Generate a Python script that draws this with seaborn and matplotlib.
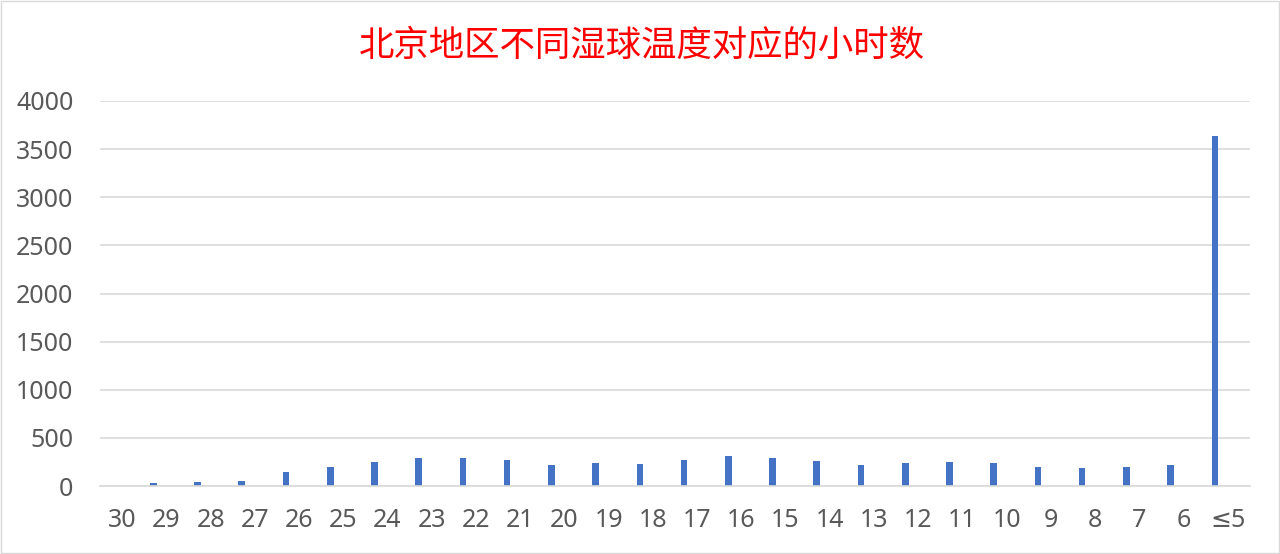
import numpy as np
import pandas as pd
import matplotlib
matplotlib.use('Agg')
import matplotlib.pyplot as plt
import seaborn as sns

# wet-bulb temperature categories and hours
temps = ['30', '29', '28', '27', '26', '25', '24', '23', '22', '21', '20', '19', '18',
         '17', '16', '15', '14', '13', '12', '11', '10', '9', '8', '7', '6', '≤5']
hours = [0, 28, 39, 56, 144, 197, 250, 292, 292, 268, 222, 239, 229,
         268, 313, 292, 261, 222, 239, 246, 236, 201, 187, 194, 215, 3636]

df = pd.DataFrame({'temp': temps, 'hours': hours})

sns.set_style('white')
plt.rcParams['font.family'] = ['Noto Sans CJK SC', 'DejaVu Sans']

fig = plt.figure(figsize=(12.8, 5.54), dpi=100)
ax = fig.add_axes([100 / 1280, 1 - 486 / 554, 1150 / 1280, 385 / 554])

sns.barplot(data=df, x='temp', y='hours', color='#4472C4', width=0.15, ax=ax,
            saturation=1, linewidth=0)

# Excel-style clustered layout: bar sits left of the category label
shift = 0.295
ax.set_xticks(np.arange(len(temps)) + shift, temps)
ax.set_xlim(-0.5 + shift, len(temps) - 0.5 + shift)

ax.set_ylim(0, 4000)
ax.set_yticks(range(0, 4001, 500))
ax.yaxis.grid(True, color='#D9D9D9', linewidth=1.2)
ax.set_axisbelow(True)
for s in ['top', 'right', 'left']:
    ax.spines[s].set_visible(False)
ax.spines['bottom'].set_color('#D9D9D9')
ax.spines['bottom'].set_linewidth(1.2)
ax.tick_params(axis='both', length=0, labelsize=18, labelcolor='#595959')
ax.tick_params(axis='x', pad=16)
ax.tick_params(axis='y', pad=19)
for lbl in ax.get_xticklabels() + ax.get_yticklabels():
    lbl.set_family(['Noto Sans', 'DejaVu Sans'])
ax.set_xlabel('')
ax.set_ylabel('')

fig.text(642 / 1280, 1 - 46 / 554, '北京地区不同湿球温度对应的小时数', color='#FF0000',
         fontsize=25.5, ha='center', va='center')

fig.patches.append(plt.Rectangle((0.001, 0.002), 0.998, 0.996, transform=fig.transFigure,
                                 fill=False, edgecolor='#D9D9D9', linewidth=1))

fig.savefig('out.png', dpi=100)
